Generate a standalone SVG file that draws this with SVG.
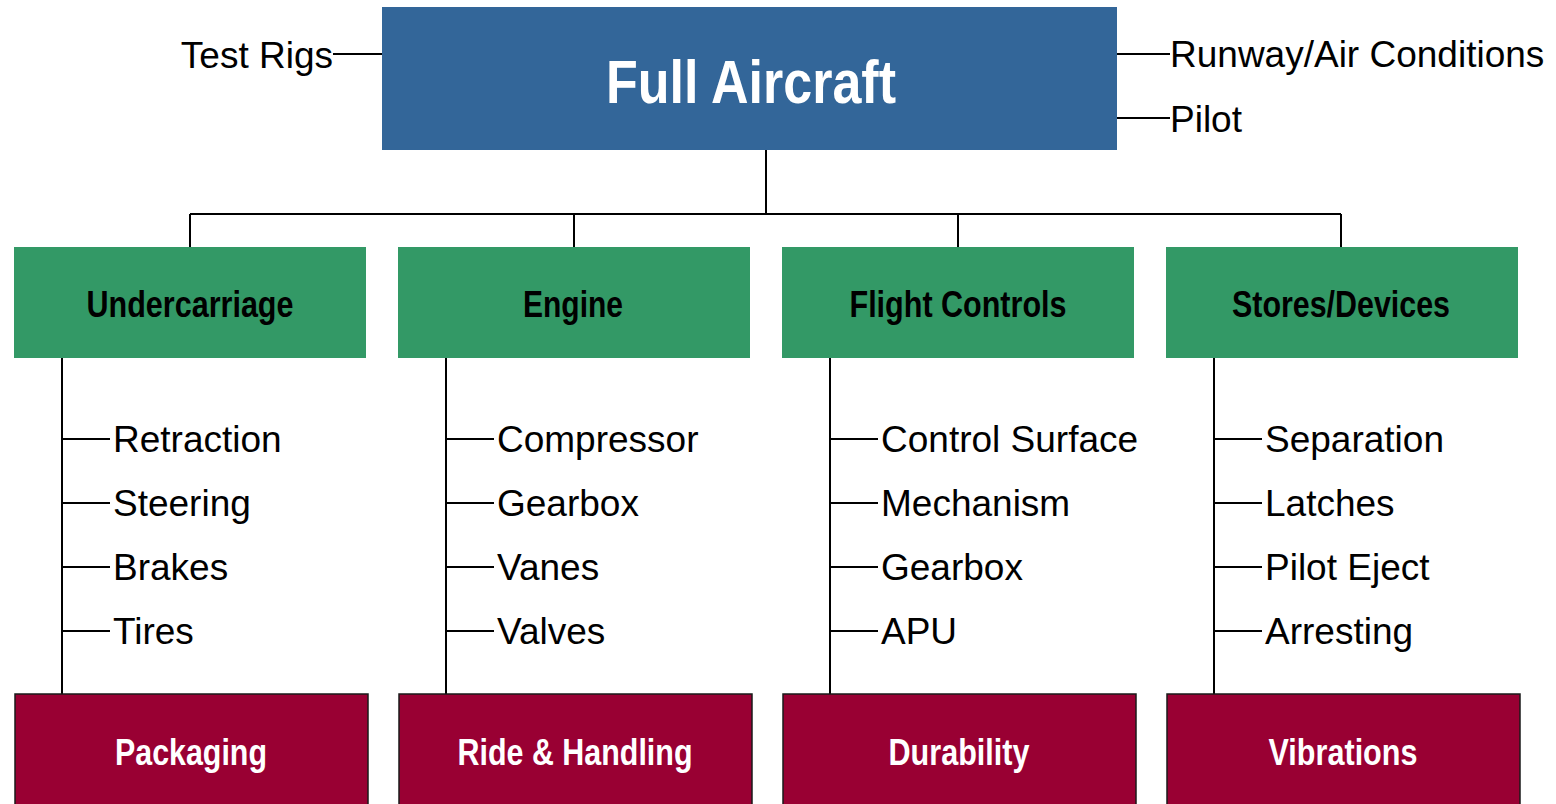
<svg xmlns="http://www.w3.org/2000/svg" width="1556" height="804" viewBox="0 0 1556 804">
<style>
.ln{stroke:#000;stroke-width:2;fill:none}
.blue{fill:#336699}
.green{fill:#339966}
.red{fill:#990033;stroke:#1a1a1a;stroke-width:1.5}
.hd{font-family:"Liberation Sans",Arial,sans-serif;font-weight:bold;text-anchor:middle}
.item{font-family:"Liberation Sans",Arial,sans-serif;font-size:37px;fill:#000}
</style>
<rect width="1556" height="804" fill="#fff"/>
<g id="connectors">
<path class="ln" d="M333,54H382 M1117,54H1170 M1117,118H1170"/>
<path class="ln" d="M766,150V214 M190,214H1341 M190,214V247 M574,214V247 M958,214V247 M1341,214V247"/>
<path class="ln" d="M62,358V694 M446,358V694 M830,358V694 M1214,358V694"/>
<path class="ln" d="M62,439H110 M62,503H110 M62,567H110 M62,631H110"/>
<path class="ln" d="M446,439H494 M446,503H494 M446,567H494 M446,631H494"/>
<path class="ln" d="M830,439H878 M830,503H878 M830,567H878 M830,631H878"/>
<path class="ln" d="M1214,439H1262 M1214,503H1262 M1214,567H1262 M1214,631H1262"/>
</g>
<g id="full-aircraft">
<rect class="blue" x="382" y="7" width="735" height="143"/>
<text class="hd" x="751" y="103" font-size="62" fill="#fff" textLength="290" lengthAdjust="spacingAndGlyphs">Full Aircraft</text>
</g>
<g id="test-rigs"><text class="item" x="333" y="68" text-anchor="end">Test Rigs</text></g>
<g id="runway"><text class="item" x="1170" y="67">Runway/Air Conditions</text></g>
<g id="pilot"><text class="item" x="1170" y="132">Pilot</text></g>
<g id="undercarriage">
<rect class="green" x="14" y="247" width="352" height="111"/>
<text class="hd" x="190" y="317" font-size="36" fill="#000" textLength="207" lengthAdjust="spacingAndGlyphs">Undercarriage</text>
</g>
<g id="engine">
<rect class="green" x="398" y="247" width="352" height="111"/>
<text class="hd" x="573" y="317" font-size="36" fill="#000" textLength="100" lengthAdjust="spacingAndGlyphs">Engine</text>
</g>
<g id="flight-controls">
<rect class="green" x="782" y="247" width="352" height="111"/>
<text class="hd" x="958" y="317" font-size="36" fill="#000" textLength="217" lengthAdjust="spacingAndGlyphs">Flight Controls</text>
</g>
<g id="stores-devices">
<rect class="green" x="1166" y="247" width="352" height="111"/>
<text class="hd" x="1341" y="317" font-size="36" fill="#000" textLength="218" lengthAdjust="spacingAndGlyphs">Stores/Devices</text>
</g>
<g id="undercarriage-items">
<text class="item" x="113" y="452">Retraction</text>
<text class="item" x="113" y="516">Steering</text>
<text class="item" x="113" y="580">Brakes</text>
<text class="item" x="113" y="644">Tires</text>
</g>
<g id="engine-items">
<text class="item" x="497" y="452">Compressor</text>
<text class="item" x="497" y="516">Gearbox</text>
<text class="item" x="497" y="580">Vanes</text>
<text class="item" x="497" y="644">Valves</text>
</g>
<g id="flight-controls-items">
<text class="item" x="881" y="452">Control Surface</text>
<text class="item" x="881" y="516">Mechanism</text>
<text class="item" x="881" y="580">Gearbox</text>
<text class="item" x="881" y="644">APU</text>
</g>
<g id="stores-items">
<text class="item" x="1265" y="452">Separation</text>
<text class="item" x="1265" y="516">Latches</text>
<text class="item" x="1265" y="580">Pilot Eject</text>
<text class="item" x="1265" y="644">Arresting</text>
</g>
<g id="packaging">
<rect class="red" x="15" y="694" width="353" height="120"/>
<text class="hd" x="191" y="765" font-size="37" fill="#fff" textLength="152" lengthAdjust="spacingAndGlyphs">Packaging</text>
</g>
<g id="ride-handling">
<rect class="red" x="399" y="694" width="353" height="120"/>
<text class="hd" x="575" y="765" font-size="37" fill="#fff" textLength="235" lengthAdjust="spacingAndGlyphs">Ride &amp; Handling</text>
</g>
<g id="durability">
<rect class="red" x="783" y="694" width="353" height="120"/>
<text class="hd" x="959" y="765" font-size="37" fill="#fff" textLength="141" lengthAdjust="spacingAndGlyphs">Durability</text>
</g>
<g id="vibrations">
<rect class="red" x="1167" y="694" width="353" height="120"/>
<text class="hd" x="1343" y="765" font-size="37" fill="#fff" textLength="149" lengthAdjust="spacingAndGlyphs">Vibrations</text>
</g>
</svg>
